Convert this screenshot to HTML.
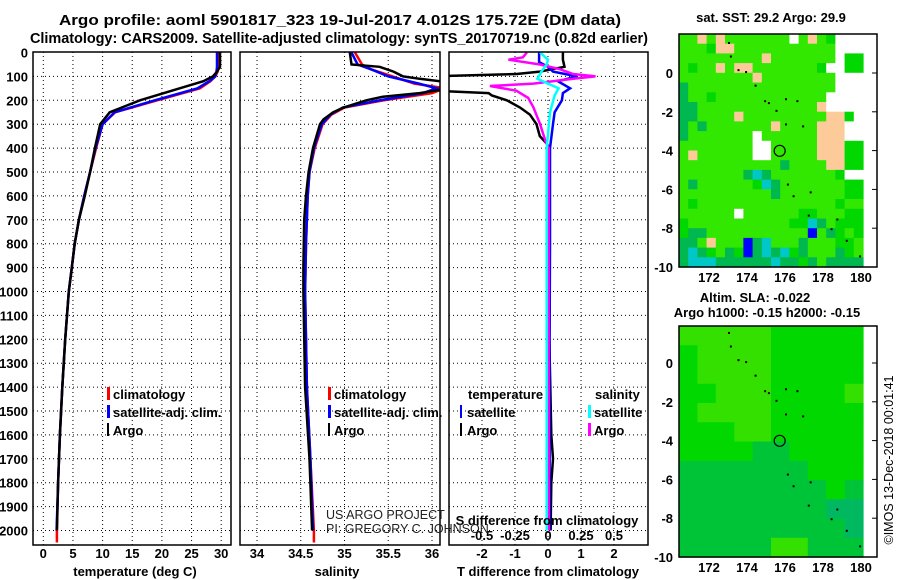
<!DOCTYPE html>
<html><head><meta charset="utf-8"><style>
body{margin:0;background:#fff}
svg{display:block;font-family:"Liberation Sans",sans-serif}
.b{font-weight:bold;font-size:13px}
.t{font-weight:bold;font-size:14.5px}
.g{stroke:#000;stroke-width:1;stroke-dasharray:1,3}
</style></head><body>
<svg id="s" width="900" height="580" viewBox="0 0 900 580">
<defs>
<clipPath id="c1"><rect x="33" y="52" width="198" height="493"/></clipPath>
<clipPath id="c2"><rect x="240" y="52" width="200" height="493"/></clipPath>
<clipPath id="c3"><rect x="449" y="52" width="199" height="493"/></clipPath>
</defs>
<text class="t" x="340" y="25" text-anchor="middle" textLength="562" lengthAdjust="spacingAndGlyphs">Argo profile: aoml 5901817_323 19-Jul-2017 4.012S 175.72E (DM data)</text>
<text class="t" x="339" y="43" text-anchor="middle" textLength="618">Climatology: CARS2009. Satellite-adjusted climatology: synTS_20170719.nc (0.82d earlier)</text>
<g id="grid"></g>
<g id="marks"></g>
<rect x="33" y="52" width="198" height="493" fill="none" stroke="#000" stroke-width="1.5"/>
<rect x="240" y="52" width="200" height="493" fill="none" stroke="#000" stroke-width="1.5"/>
<rect x="449" y="52" width="199" height="493" fill="none" stroke="#000" stroke-width="1.5"/>
<text class="b" x="135" y="576" text-anchor="middle">temperature (deg C)</text>
<text class="b" x="337" y="576" text-anchor="middle">salinity</text>
<text class="b" x="548" y="576" text-anchor="middle">T difference from climatology</text>
<text class="b" x="547" y="525" text-anchor="middle">S difference from climatology</text>
<g font-size="12.5" fill="#222">
<text x="326" y="519">US ARGO PROJECT</text>
<text x="326" y="533">PI: GREGORY C. JOHNSON</text>
</g>
<g class="b">
<rect x="107" y="387" width="3" height="13" fill="#f00"/><text x="113" y="399">climatology</text>
<rect x="107" y="405" width="3" height="13" fill="#00f"/><text x="113" y="417">satellite-adj. clim.</text>
<rect x="107" y="423" width="2" height="13" fill="#000"/><text x="113" y="435">Argo</text>
</g>
<g class="b">
<rect x="328" y="387" width="3" height="13" fill="#f00"/><text x="334" y="399">climatology</text>
<rect x="328" y="405" width="3" height="13" fill="#00f"/><text x="334" y="417">satellite-adj. clim.</text>
<rect x="328" y="423" width="2" height="13" fill="#000"/><text x="334" y="435">Argo</text>
</g>
<g class="b">
<text x="468" y="399">temperature</text>
<rect x="460" y="405" width="2" height="13" fill="#00f"/><text x="467" y="417">satellite</text>
<rect x="460" y="423" width="2" height="13" fill="#000"/><text x="467" y="435">Argo</text>
<text x="595" y="399">salinity</text>
<rect x="588" y="405" width="3" height="13" fill="#0ff"/><text x="594" y="417">satellite</text>
<rect x="588" y="423" width="3" height="13" fill="#f0f"/><text x="594" y="435">Argo</text>
</g>
<text class="b" x="771" y="22" text-anchor="middle">sat. SST: 29.2 Argo: 29.9</text>
<g id="map1"></g>
<rect x="679" y="34" width="198" height="233" fill="none" stroke="#000" stroke-width="1.5"/>
<text class="b" x="755" y="302" text-anchor="middle">Altim. SLA: -0.022</text>
<text class="b" x="767" y="317" text-anchor="middle">Argo h1000: -0.15 h2000: -0.15</text>
<g id="map2"></g>
<rect x="679" y="326" width="198" height="231" fill="none" stroke="#000" stroke-width="1.5"/>
<text x="893" y="460" font-size="12.5" text-anchor="middle" transform="rotate(-90 893 460)">©IMOS 13-Dec-2018 00:01:41</text>
<g id="maxes"></g>
</svg>
<script>
const depthTicks=[0,100,200,300,400,500,600,700,800,900,1000,1100,1200,1300,1400,1500,1600,1700,1800,1900,2000];
const tTicks=[0,5,10,15,20,25,30];
const sTicks=[34,34.5,35,35.5,36];
const dtTicks=[-2,-1,0,1,2];
const dsTickLabels=["-0.5","-0.25","0","0.25","0.5"];
const dsTicks=[-0.5,-0.25,0,0.25,0.5];

const depthArgoT=[0,60,80,100,120,150,200,250,300,400,500,600,700,800,900,1000,1200,1400,1600,1800,2000];
const argoT=[29.8,29.8,29.3,28.6,27,23,16.3,11.2,9.6,8.7,7.9,7.0,6.0,5.3,4.8,4.3,3.7,3.2,2.8,2.5,2.3];
const depthClimT=[0,60,80,100,120,150,200,250,300,400,500,600,700,800,900,1000,1200,1400,1600,1800,2000,2050];
const climT=[29.6,29.5,29.4,29,28.2,26.4,19.2,12.1,10,8.9,7.9,6.9,6,5.3,4.8,4.3,3.7,3.2,2.8,2.5,2.3,2.3];
const satT=[29.3,29.3,29.2,29,28,26,18.8,12,10,8.8,7.9,6.9,6,5.3,4.8,4.3,3.7,3.2,2.8,2.5,2.25,2.25];

const depthArgoS=[0,50,60,80,100,110,125,150,170,185,200,230,250,280,300,350,400,500,600,700,900,1000,1400,1700,2000];
const argoS=[35.06,35.08,35.4,35.56,35.67,35.86,36.2,36.2,35.86,35.44,35.25,34.99,34.87,34.76,34.72,34.68,34.64,34.59,34.56,34.54,34.53,34.53,34.55,34.6,34.63];
const depthClimS=[0,50,70,100,130,150,170,200,230,260,300,400,500,600,800,1000,1400,1700,2000,2050];
const climS=[35.12,35.2,35.3,35.55,35.8,36.15,36.0,35.45,35.0,34.85,34.75,34.66,34.6,34.58,34.56,34.55,34.57,34.61,34.65,34.65];
const satS=[35.08,35.15,35.3,35.5,35.85,36.05,35.9,35.4,34.98,34.84,34.74,34.65,34.6,34.58,34.56,34.55,34.57,34.61,34.64,34.64];

const depthArgoDT=[0,30,60,80,90,100,160,170,180,200,230,260,300,350,380,400,800,1200,1600,1700,1800,2000];
const argoDT=[0.45,0.45,0.5,-0.25,-0.95,-3.5,-3.5,-1.8,-1.7,-1.25,-0.85,-0.55,-0.35,-0.25,-0.05,0.05,0.05,0.04,0.1,0.15,0.1,0.08];
const depthSatDT=[0,40,60,80,100,120,150,170,200,250,300,400,800,1200,2000];
const satDT=[-0.27,-0.27,0,0.15,0.88,0.3,0.67,0.45,0.42,0.2,0.15,0.06,0.06,0.05,0.05];
const depthArgoDS=[0,20,30,50,70,90,100,110,130,140,160,190,230,300,370,400,2000];
const argoDS=[-0.16,-0.19,-0.3,-0.06,0.09,0.19,0.36,0.19,-0.11,-0.44,-0.24,-0.15,-0.11,-0.06,-0.02,0.005,0.005];
const depthSatDS=[0,30,50,80,110,150,180,250,400,2000];
const satDS=[-0.06,0,-0.01,-0.05,-0.08,0.08,0.05,0.015,-0.01,-0.01];

const sstRows=[
"ggtgtgggggggwgtgGwww","gggGttgggggggggggwww","gggggggggtgggggggwGG","gGggtgttgggggggGwwGG",
"ggggggggtggggggggwww","dggggggggggggggggwww","dggGggggggggggggwwww","ddgggggggggggggtwwww",
"ddggggtgggggggggttGw","dgdgggggggtggggtttww","dgggggggwggggggtttww","ggggggggwwgggggtttGG",
"gtggggggwwgggggtttGG","gggggggggggdggggttGG","gggggggdcdgggggggGww","gdggggggGcdgggggggGG",
"ggggggggggdgggggggGG","gGgggggggggggggggGgg","ggggggwggggggGGgggGG","GgggggggggggGGcdgGGG",
"GddgggggggggggbgdGgG","ddgtgggbdcgggdgggGGg","dcdGgdGbdcdcGdgggdGg","dcccddddddcddGdgdddd"];
const slaRows=["LLLLLMMMMM","MLLLLMMMMM","MLLLLMMMMM","MMLLLMMMML","MLLLLMMMMM","MMMLLMMMMM",
"MMMMDDMMMM","DDDDDDDMMM","DDDDDDDDMD","DDDDDDDDEE","DDDDDDDDDE","DDDDDLLDDD"];
const lonTicks=[172,174,176,178,180];
const latTicks=[0,-2,-4,-6,-8,-10];
const floatLon=175.72, floatLat=-4.012;
const islands=[[173.0,1.6],[173.1,0.9],[173.5,0.2],[173.9,0.1],[174.4,-0.6],[174.9,-1.4],[175.1,-1.5],[175.5,-1.9],[176.0,-1.3],[176.6,-1.4],[176.0,-2.6],[176.9,-2.7],[176.1,-5.7],[176.4,-6.3],[177.3,-6.1],[177.2,-7.3],[178.4,-8.0],[178.7,-7.5],[179.2,-8.6],[179.9,-9.4]];

const NS="http://www.w3.org/2000/svg";
const yD=d=>52.5+0.239*d;
const xT=t=>43.3+5.93*t;
const xS=s=>257+87.5*(s-34);
const xDT=v=>548+33*v;
const xDS=v=>548+132*v;
const mx=lon=>709+19*(lon-172);
const my1=lat=>73-19.4*lat;
const my2=lat=>363-19.4*lat;
function mk(tag,attrs,parent){const e=document.createElementNS(NS,tag);for(const k in attrs)e.setAttribute(k,attrs[k]);parent.appendChild(e);return e;}
const grid=document.getElementById('grid'),marks=document.getElementById('marks');

[[33,231],[240,440],[449,648]].forEach(p=>{depthTicks.forEach(d=>{if(d>0)mk('line',{x1:p[0],x2:p[1],y1:yD(d),y2:yD(d),class:'g'},grid);});});
tTicks.forEach(t=>mk('line',{x1:xT(t),x2:xT(t),y1:52,y2:545,class:'g'},grid));
sTicks.forEach(s=>mk('line',{x1:xS(s),x2:xS(s),y1:52,y2:545,class:'g'},grid));
dtTicks.forEach(v=>mk('line',{x1:xDT(v),x2:xDT(v),y1:52,y2:545,class:'g'},grid));
depthTicks.forEach(d=>{const e=mk('text',{x:28,y:yD(d)+5,'text-anchor':'end',class:'b'},grid);e.textContent=d;});
tTicks.forEach(t=>{const e=mk('text',{x:xT(t),y:558,'text-anchor':'middle',class:'b'},grid);e.textContent=t;});
sTicks.forEach(s=>{const e=mk('text',{x:xS(s),y:558,'text-anchor':'middle',class:'b'},grid);e.textContent=s;});
dtTicks.forEach(v=>{const e=mk('text',{x:xDT(v),y:558,'text-anchor':'middle',class:'b'},grid);e.textContent=v;});
dsTicks.forEach((v,i)=>{const e=mk('text',{x:xDS(v),y:540,'text-anchor':'middle',class:'b'},grid);e.textContent=dsTickLabels[i];});

function line(depths,vals,fx,color,clip,name){
 let d='';depths.forEach((z,i)=>{d+=(i?'L':'M')+fx(vals[i]).toFixed(1)+','+yD(z).toFixed(1);});
 const e=mk('path',{d:d,fill:'none',stroke:color,'stroke-width':2.5,'clip-path':'url(#'+clip+')'},marks);
 
 
}
line(depthClimT,climT,xT,'#f00','c1','temperature-climatology-line');
line(depthClimT.slice(0,21),satT.slice(0,21),xT,'#00f','c1','temperature-satellite-line');
line(depthArgoT,argoT,xT,'#000','c1','temperature-argo-line');
line(depthClimS,climS,xS,'#f00','c2','salinity-climatology-line');
line(depthClimS.slice(0,19),satS.slice(0,19),xS,'#00f','c2','salinity-satellite-line');
line(depthArgoS,argoS,xS,'#000','c2','salinity-argo-line');
line(depthArgoDT,argoDT,xDT,'#000','c3','t-diff-argo-line');
line(depthSatDT,satDT,xDT,'#00f','c3','t-diff-satellite-line');
line(depthArgoDS,argoDS,xDS,'#f0f','c3','s-diff-argo-line');
line(depthSatDS,satDS,xDS,'#0ff','c3','s-diff-satellite-line');

const sstCol={g:'#33e800',G:'#00d800',d:'#00b850',c:'#00c8c8',t:'#fccb99',w:'#ffffff',b:'#0000ff'};
const slaCol={L:'#33e000',M:'#00d800',D:'#00c438',E:'#00b860'};
const m1=document.getElementById('map1'),m2=document.getElementById('map2');
const cw=184/20,ch=233/24;
sstRows.forEach((r,i)=>{for(let j=0;j<r.length;j++){const c=mk('rect',{x:(679+j*cw).toFixed(1),y:(34+i*ch).toFixed(1),width:(cw+0.6).toFixed(1),height:(ch+0.6).toFixed(1),fill:sstCol[r[j]]},m1);
 
 }});
const cw2=184/10,ch2=231/12;
slaRows.forEach((r,i)=>{for(let j=0;j<r.length;j++){const c=mk('rect',{x:(679+j*cw2).toFixed(1),y:(326+i*ch2).toFixed(1),width:(cw2+0.6).toFixed(1),height:(ch2+0.6).toFixed(1),fill:slaCol[r[j]]},m2);
 
 }});
const maxes=document.getElementById('maxes');
[[m1,my1],[m2,my2]].forEach(([g,fy])=>{
 islands.forEach(p=>mk('rect',{x:mx(p[0]),y:fy(p[1]),width:2,height:2,fill:'#000'},g));
 const c=mk('circle',{cx:mx(floatLon),cy:fy(floatLat),r:5.5,fill:'none',stroke:'#000','stroke-width':1.2},g);
 
 
});
[[my1,282],[my2,572]].forEach(([fy,ly])=>{
 latTicks.forEach(l=>{const e=mk('text',{x:673,y:fy(l)+5,'text-anchor':'end',class:'b'},maxes);e.textContent=l;
  mk('line',{x1:877,x2:872,y1:fy(l),y2:fy(l),stroke:'#000'},maxes);});
 lonTicks.forEach(l=>{const e=mk('text',{x:mx(l),y:ly,'text-anchor':'middle',class:'b'},maxes);e.textContent=l;});
});
</script>
</body></html>
